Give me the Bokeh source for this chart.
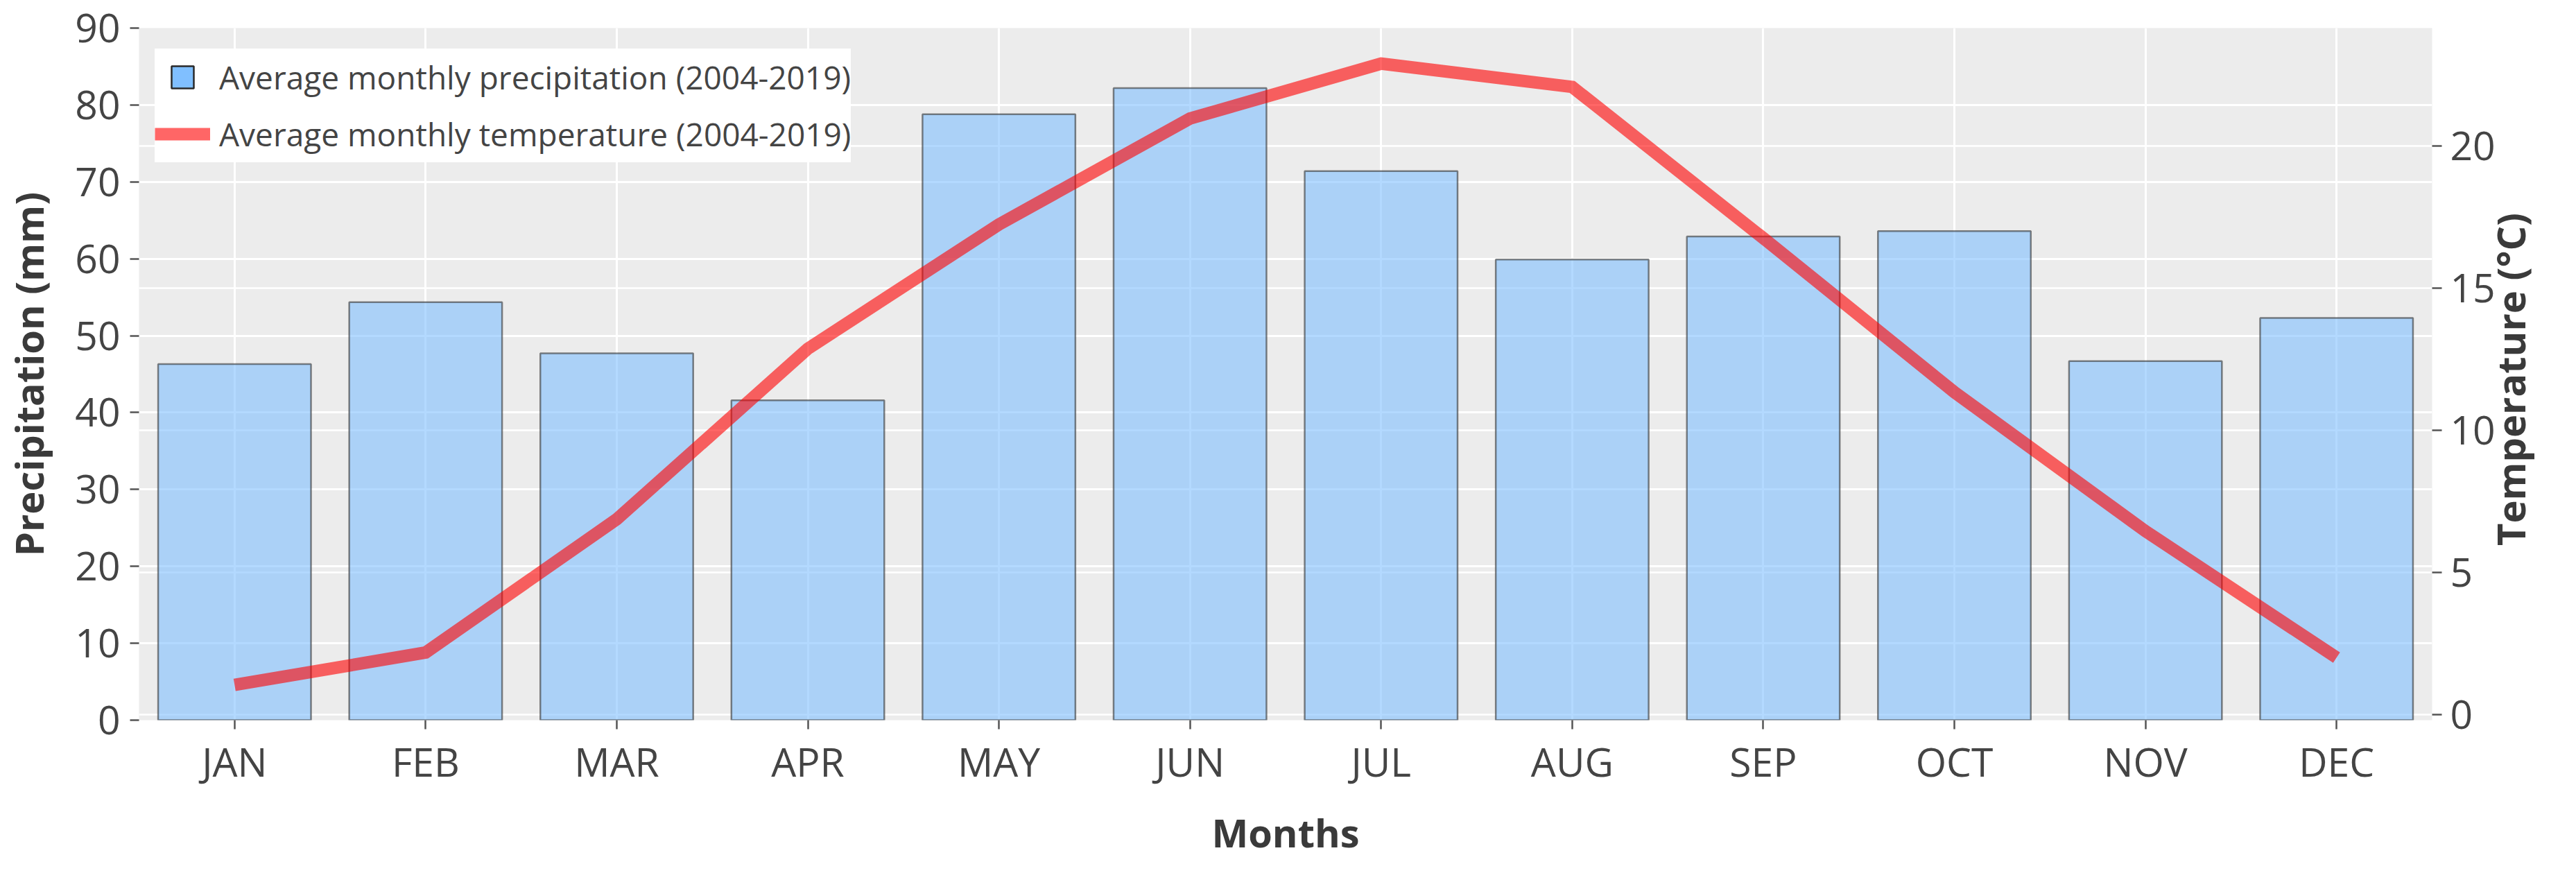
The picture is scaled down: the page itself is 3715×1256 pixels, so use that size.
import math
from bokeh.plotting import figure
from bokeh.models import (ColumnDataSource, Range1d, FactorRange, LinearAxis,
                          FixedTicker, Grid, Legend, LegendItem)
from bokeh.embed import file_html
from bokeh.resources import INLINE

# ---------------- data ----------------
months = ["JAN", "FEB", "MAR", "APR", "MAY", "JUN",
          "JUL", "AUG", "SEP", "OCT", "NOV", "DEC"]
precip_mm = [46.3, 54.35, 47.7, 41.6, 78.8, 82.2, 71.4, 59.9, 62.9, 63.6, 46.7, 52.3]
temp_c = [1.04, 2.18, 6.87, 12.87, 17.24, 20.97, 22.90, 22.08, 16.76, 11.34, 6.45, 2.0]
precip_ticks = [0, 10, 20, 30, 40, 50, 60, 70, 80, 90]
temp_ticks = [0, 5, 10, 15, 20]
precip_label = "Average monthly precipitation (2004-2019)"
temp_label = "Average monthly temperature (2004-2019)"
x_title = "Months"
left_title = "Precipitation (mm)"
right_title = "Temperature (°C)"

FONT = "Open Sans"
TXT = "#444444"
TITLE_C = "#3a3a3a"
TITLE_SIZE = "56px"

p = figure(width=3699, height=1240,
           x_range=FactorRange(factors=months),
           y_range=Range1d(0, 90),
           output_backend="svg", toolbar_location=None,
           min_border_left=199, min_border_right=187,
           min_border_top=40, min_border_bottom=198)
p.extra_y_ranges = {"temp": Range1d(-0.2, 24.15),
                    "rtitle": Range1d(0, 1000)}

p.background_fill_color = "#ECECEC"
p.border_fill_color = "white"
p.outline_line_color = None

src = ColumnDataSource(dict(month=months, precip=precip_mm, temp=temp_c))

bars = p.vbar(x="month", top="precip", width=0.8, source=src,
              fill_color="#80BFFF", fill_alpha=0.6,
              line_color="#333333", line_alpha=0.6, line_width=2.5)
line_r = p.line(x="month", y="temp", source=src, y_range_name="temp",
                line_color="red", line_alpha=0.6, line_width=18,
                line_join="miter", line_cap="butt")

# legend swatch for the bars: zero-size markers (invisible in the plot,
# the legend draws its own square from the glyph box)
swatch = p.scatter(x="month", y="precip", source=src, marker="square",
                   size=0, fill_color="#80BFFF", line_color="#2a2a2a",
                   line_width=2.5)

# ---------------- axes ----------------
def style_axis(ax, tick_out, standoff, title_standoff):
    ax.axis_line_color = None
    ax.major_tick_line_color = "#555555"
    ax.major_tick_line_width = 2.5
    ax.major_tick_in = 0
    ax.major_tick_out = tick_out
    ax.minor_tick_line_color = None
    ax.major_label_text_font = FONT
    ax.major_label_text_font_size = "57px"
    ax.major_label_text_color = TXT
    ax.major_label_standoff = standoff
    ax.axis_label_text_font = FONT
    ax.axis_label_text_font_size = TITLE_SIZE
    ax.axis_label_text_font_style = "bold"
    ax.axis_label_text_color = TITLE_C
    ax.axis_label_standoff = title_standoff

xa = p.xaxis[0]
xa.axis_label = x_title
style_axis(xa, 13, 7, 22)

ya = p.yaxis[0]
ya.axis_label = left_title
ya.ticker = FixedTicker(ticks=precip_ticks)
style_axis(ya, 13, 14, 26)

ra = LinearAxis(y_range_name="temp", ticker=FixedTicker(ticks=temp_ticks),
                axis_label=None)
style_axis(ra, 14, 12, 0)
p.add_layout(ra, "right")

# right-axis title, reading bottom-to-top like the reference
# (single rotated label on an outer axis, centred on the plot height)
TITLE_START = 252
ta = LinearAxis(y_range_name="rtitle", ticker=FixedTicker(ticks=[TITLE_START]),
                major_label_overrides={TITLE_START: right_title},
                major_label_orientation=math.pi / 2, axis_label=None)
ta.axis_line_color = None
ta.major_tick_line_color = None
ta.minor_tick_line_color = None
ta.major_tick_in = 0
ta.major_tick_out = 0
ta.major_label_standoff = 19
ta.major_label_text_font = FONT
ta.major_label_text_font_size = TITLE_SIZE
ta.major_label_text_font_style = "bold"
ta.major_label_text_color = TITLE_C
p.add_layout(ta, "right")

# ---------------- grids ----------------
p.xgrid.grid_line_color = "white"
p.xgrid.grid_line_width = 3
p.ygrid.ticker = FixedTicker(ticks=precip_ticks)
p.ygrid.grid_line_color = "white"
p.ygrid.grid_line_width = 3
rgrid = Grid(dimension=1, y_range_name="temp", ticker=FixedTicker(ticks=temp_ticks),
             grid_line_color="white", grid_line_width=2.5)
p.add_layout(rgrid)

# ---------------- legend ----------------
legend = Legend(items=[LegendItem(label=precip_label, renderers=[swatch]),
                       LegendItem(label=temp_label, renderers=[line_r])],
                location=(23, 804), margin=0, padding=8,
                glyph_width=80, glyph_height=82, label_standoff=13,
                label_text_font=FONT, label_text_font_size="46px",
                label_text_color=TXT,
                background_fill_color="white", background_fill_alpha=1.0,
                border_line_color=None)
try:
    legend.spacing = -15
except Exception:
    legend.spacing = 0
p.add_layout(legend)

open("out.html", "w").write(file_html(p, INLINE, "chart"))
